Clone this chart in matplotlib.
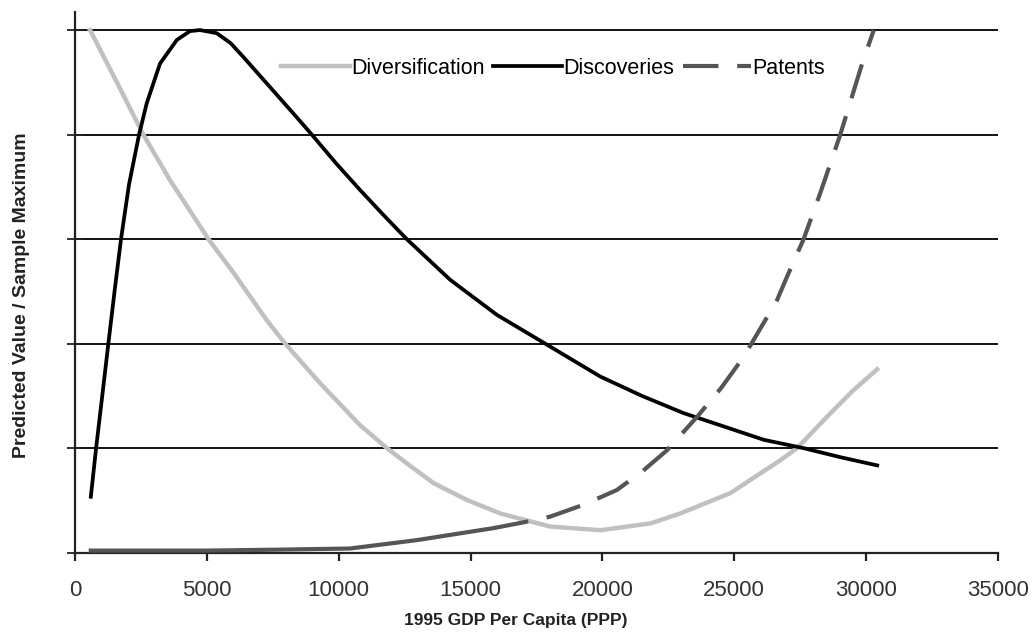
import matplotlib
matplotlib.use("Agg")
import matplotlib.pyplot as plt

plt.rcParams['font.family'] = ['Liberation Sans', 'DejaVu Sans']

# values (x = 1995 GDP per capita, y = share of sample max)
div_x = [570, 1680, 2590, 3600, 5060, 6020, 7270, 7970, 9300, 10810, 11830, 12580,
         13600, 14860, 16130, 18020, 19920, 21820, 22950, 24850, 26750, 27380,
         28650, 29500, 30420]
div_y = [1.0, 0.891, 0.8, 0.713, 0.6, 0.535, 0.445, 0.4, 0.324, 0.244, 0.2, 0.171,
         0.133, 0.101, 0.075, 0.05, 0.043, 0.056, 0.075, 0.114, 0.177, 0.2,
         0.267, 0.31, 0.351]

disc_x = [600, 800, 1010, 1265, 1500, 1745, 2050, 2430, 2720, 3225, 3860, 4360,
          4740, 5375, 5900, 6375, 7270, 8270, 8980, 9900, 10810, 11700, 12580,
          14230, 16000, 17830, 19920, 21500, 23080, 24220, 26120, 27630, 29000,
          30420]
disc_y = [0.107, 0.2, 0.29, 0.4, 0.50, 0.6, 0.705, 0.8, 0.86, 0.936, 0.981, 0.998,
          1.0, 0.994, 0.975, 0.949, 0.898, 0.841, 0.8, 0.745, 0.694, 0.646, 0.6,
          0.522, 0.455, 0.4, 0.337, 0.30, 0.267, 0.248, 0.216, 0.2, 0.183,
          0.167]

pat_x = [600, 5000, 8000, 10430, 12960, 15870, 17000, 18020, 19300, 20550, 21500,
         22450, 23590, 24500, 25360, 26620, 27000, 27630, 28260, 29020, 29850,
         30290]
pat_y = [0.004, 0.004, 0.006, 0.008, 0.024, 0.047, 0.058, 0.069, 0.092, 0.12, 0.155,
         0.196, 0.26, 0.315, 0.375, 0.483, 0.528, 0.6, 0.688, 0.8, 0.936,
         1.0]
pat_solid_end = 5  # the low flat part renders as an unbroken line in the original

x_ticks = [0, 5000, 10000, 15000, 20000, 25000, 30000, 35000]
y_grid = [0.2, 0.4, 0.6, 0.8, 1.0]

fig = plt.figure(figsize=(10.33, 6.36), dpi=100)
ax = fig.add_axes([0.0726, 0.131, 0.8935, 0.85])

for g in y_grid:
    ax.axhline(g, color='black', lw=1.3, zorder=1)

ax.plot(div_x, div_y, color='#c0c0c0', lw=3.2, label='Diversification', zorder=3)
ax.plot(disc_x, disc_y, color='black', lw=2.7, label='Discoveries', zorder=4)
ax.plot(pat_x[:pat_solid_end + 1], pat_y[:pat_solid_end + 1], color='#555555',
        lw=3.0, zorder=5)
ax.plot(pat_x[pat_solid_end:], pat_y[pat_solid_end:], color='#555555', lw=3.0,
        dashes=(8.5, 4.5), label='Patents', zorder=5)

ax.set_xlim(0, 35000)
ax.set_ylim(0, 1.0344)
ax.set_xticks(x_ticks)
ax.set_xticklabels([str(t) for t in x_ticks])
ax.set_yticks([0] + y_grid)
ax.set_yticklabels([])

for s in ['top', 'right']:
    ax.spines[s].set_visible(False)
for s in ['left', 'bottom']:
    ax.spines[s].set_color('#222222')
    ax.spines[s].set_linewidth(1.6)

ax.tick_params(axis='x', direction='out', length=6, width=1.6, color='#222222',
               labelsize=16, labelcolor='#333333', pad=14)
ax.tick_params(axis='y', direction='inout', length=11, width=1.3, color='#222222')

ax.set_xlabel('1995 GDP Per Capita (PPP)', fontsize=12.5, fontweight='bold',
              color='#222222', labelpad=8, x=0.478)
ax.set_ylabel('Predicted Value / Sample Maximum', fontsize=14, fontweight='bold',
              color='#222222')
ax.yaxis.set_label_coords(-0.049, 0.477)

ax.legend(loc='center', bbox_to_anchor=(0.518, 0.896), ncol=3, frameon=False,
          fontsize=15.5, handlelength=3.2, handletextpad=0.05, columnspacing=0.4)

fig.savefig('out.png', dpi=100)
